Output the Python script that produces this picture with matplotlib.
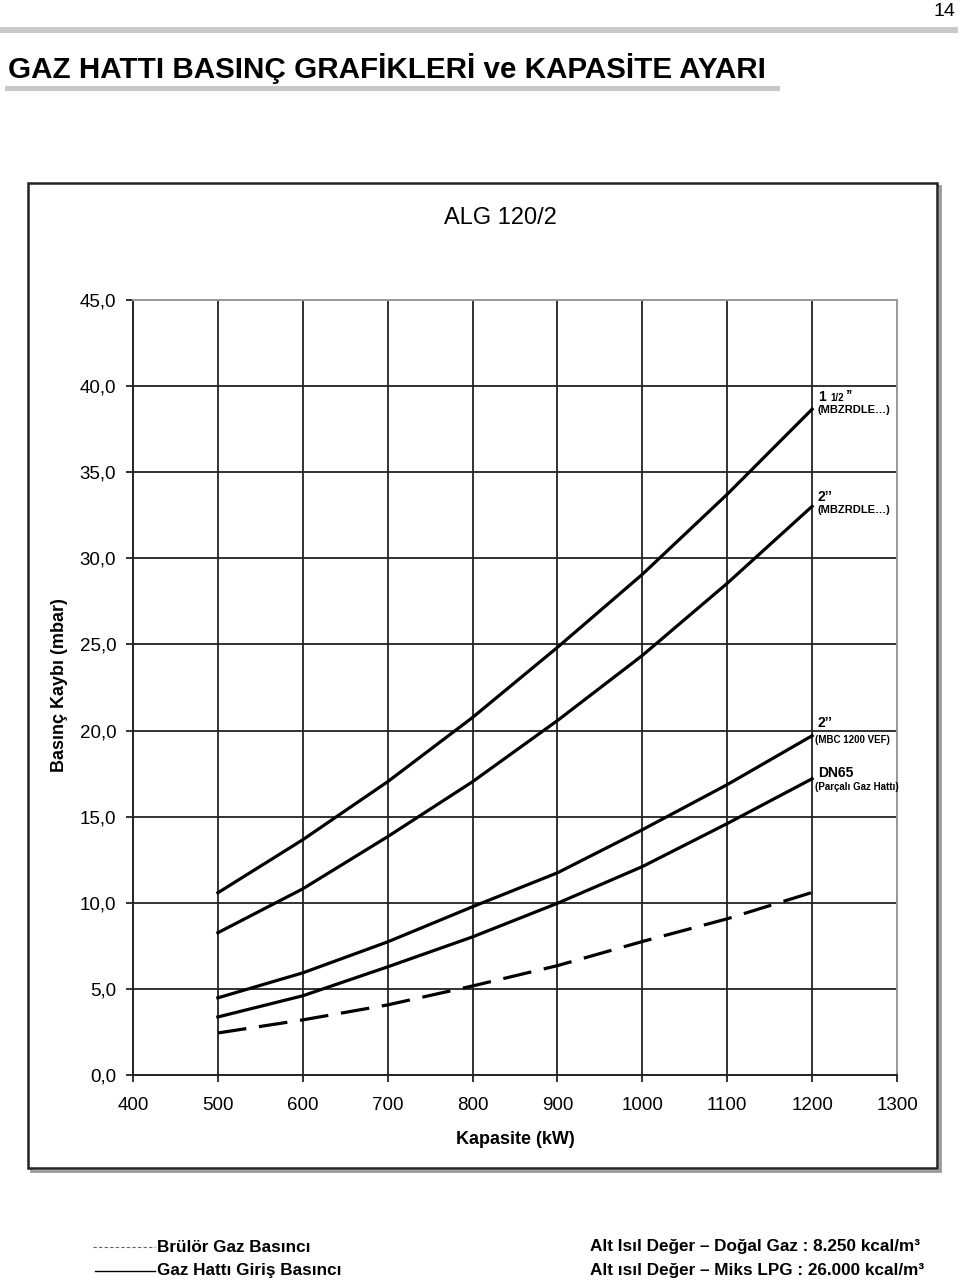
import matplotlib
matplotlib.use("Agg")
import matplotlib.pyplot as plt
from matplotlib.patches import Rectangle
from matplotlib.lines import Line2D

plt.rcParams['font.family'] = ['Liberation Sans', 'DejaVu Sans']

# capacity (kW) and pressure loss (mbar)
kapasite = [500, 600, 700, 800, 900, 1000, 1100, 1200]
mbzrdle_1_5 = [10.58, 13.66, 17.03, 20.76, 24.83, 29.07, 33.72, 38.66]
mbzrdle_2 = [8.26, 10.81, 13.84, 17.03, 20.58, 24.36, 28.55, 33.02]
mbc_1200 = [4.48, 5.93, 7.73, 9.77, 11.74, 14.24, 16.86, 19.70]
dn65 = [3.37, 4.60, 6.28, 8.02, 9.97, 12.10, 14.60, 17.20]
brulor = [2.44, 3.20, 4.07, 5.17, 6.35, 7.75, 9.07, 10.60]

x_ticks = [400, 500, 600, 700, 800, 900, 1000, 1100, 1200, 1300]
y_ticks = [0, 5, 10, 15, 20, 25, 30, 35, 40, 45]
y_labels = ['0,0', '5,0', '10,0', '15,0', '20,0', '25,0', '30,0', '35,0', '40,0', '45,0']

W, H = 960, 1283
fig = plt.figure(figsize=(W / 100, H / 100), dpi=100)


def fx(px):
    return px / W


def fy(py):
    return 1 - py / H


narrow = ['Liberation Sans Narrow', 'Liberation Sans', 'DejaVu Sans']

# page header
fig.add_artist(Rectangle((0, fy(33)), fx(958), 6 / H, transform=fig.transFigure,
                         color='#c8c8c8', lw=0))
fig.text(fx(955), fy(12), '14', ha='right', va='center', fontsize=14, family=narrow)
fig.text(fx(8), fy(68), 'GAZ HATTI BASINÇ GRAFİKLERİ ve KAPASİTE AYARI',
         ha='left', va='center', fontsize=21.3, fontweight='bold', family=narrow)
fig.add_artist(Rectangle((fx(5), fy(91)), fx(775), 5 / H, transform=fig.transFigure,
                         color='#c8c8c8', lw=0))

# outer chart frame with shadow (behind the axes)
fig.add_artist(Rectangle((fx(31), fy(1171)), fx(909), (1171 - 186) / H,
                         transform=fig.transFigure, fill=False, ec='#9a9a9a', lw=2,
                         zorder=-3))
fig.add_artist(Rectangle((fx(28), fy(1168)), fx(909), (1168 - 183) / H,
                         transform=fig.transFigure, fc='white', ec='#222222', lw=1.8,
                         zorder=-2))

ax = fig.add_axes([fx(133), fy(1075), fx(897 - 133), (1075 - 300) / H])
ax.set_zorder(2)
ax.patch.set_alpha(0)
ax.set_xlim(400, 1300)
ax.set_ylim(0, 45)

for v in x_ticks[1:-1]:
    ax.axvline(v, color='#222222', lw=1.3, zorder=1)
for v in y_ticks[1:-1]:
    ax.axhline(v, color='#222222', lw=1.3, zorder=1)

ax.plot(kapasite, mbzrdle_1_5, color='black', lw=2.3, zorder=3)
ax.plot(kapasite, mbzrdle_2, color='black', lw=2.3, zorder=3)
ax.plot(kapasite, mbc_1200, color='black', lw=2.3, zorder=3)
ax.plot(kapasite, dn65, color='black', lw=2.3, zorder=3)
ax.plot(kapasite, brulor, color='black', lw=2.3, dashes=(9, 4), zorder=3)

ax.spines['left'].set_color('#222222')
ax.spines['bottom'].set_color('#222222')
ax.spines['left'].set_linewidth(1.4)
ax.spines['bottom'].set_linewidth(1.4)
ax.spines['top'].set_color('#999999')
ax.spines['right'].set_color('#999999')
ax.spines['top'].set_linewidth(1.4)
ax.spines['right'].set_linewidth(1.4)

ax.set_xticks(x_ticks)
ax.set_xticklabels([str(v) for v in x_ticks])
ax.set_yticks(y_ticks)
ax.set_yticklabels(y_labels)
ax.tick_params(axis='both', direction='out', length=5, width=1.3, labelsize=13.5,
               color='#222222')
ax.tick_params(axis='x', pad=11)
ax.tick_params(axis='y', pad=7)

ax.set_xlabel('Kapasite (kW)', fontsize=13, fontweight='bold', labelpad=12)
fig.text(fx(60), fy(685), 'Basınç Kaybı (mbar)', rotation=90, ha='center', va='center',
         fontsize=13, fontweight='bold')
fig.text(fx(500), fy(218), 'ALG 120/2', ha='center', va='center', fontsize=17)

# curve labels
lab = dict(fontweight='bold', ha='left', va='center')
fig.text(fx(818), fy(397), '1', fontsize=10, **lab)
fig.text(fx(830), fy(398), '1/2', fontsize=7, **lab)
fig.text(fx(845), fy(395), '’’', fontsize=10, **lab)
fig.text(fx(818), fy(410), '(MBZRDLE…)', fontsize=8, **lab)
fig.text(fx(818), fy(497), '2’’', fontsize=10, **lab)
fig.text(fx(818), fy(510), '(MBZRDLE…)', fontsize=8, **lab)
fig.text(fx(818), fy(723), '2’’', fontsize=10, **lab)
fig.text(fx(815), fy(740), '(MBC 1200 VEF)', fontsize=7, **lab)
fig.text(fx(818), fy(773), 'DN65', fontsize=10, **lab)
fig.text(fx(815), fy(787), '(Parçalı Gaz Hattı)', fontsize=7, **lab)

# bottom legend
fig.add_artist(Line2D([fx(93), fx(155)], [fy(1247), fy(1247)], transform=fig.transFigure,
                      color='#666666', lw=0.8, ls=(0, (3, 2))))
fig.add_artist(Line2D([fx(95), fx(155)], [fy(1271), fy(1271)], transform=fig.transFigure,
                      color='black', lw=1.0))
leg = dict(fontsize=12.3, fontweight='bold', ha='left', va='center', family=narrow)
fig.text(fx(157), fy(1247), 'Brülör Gaz Basıncı', **leg)
fig.text(fx(157), fy(1271), 'Gaz Hattı Giriş Basıncı', **leg)
fig.text(fx(590), fy(1247), 'Alt Isıl Değer – Doğal Gaz : 8.250 kcal/m³', **leg)
fig.text(fx(590), fy(1271), 'Alt ısıl Değer – Miks LPG : 26.000 kcal/m³', **leg)

fig.savefig('out.png', dpi=100)
